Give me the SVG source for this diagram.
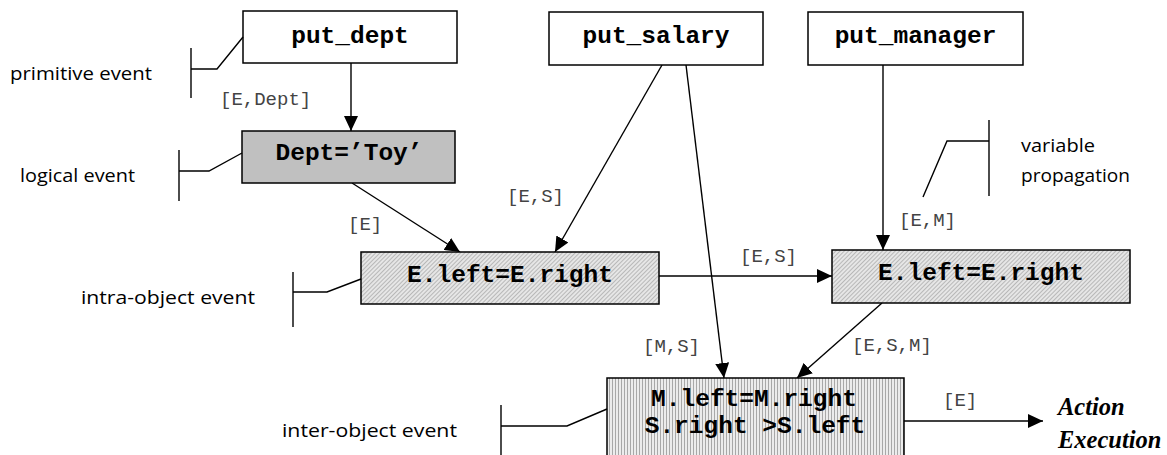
<svg xmlns="http://www.w3.org/2000/svg" width="1167" height="455" viewBox="0 0 1167 455">
<style>
.box{stroke:#000;stroke-width:1.5}
.nt{font-family:"Liberation Mono","Courier New",monospace;font-weight:bold;font-size:24.5px;fill:#000;text-anchor:middle}
.lbl{font-family:"Liberation Mono","Courier New",monospace;font-size:19px;fill:#444}
.side{font-family:"Open Sans","DejaVu Sans",sans-serif;font-size:18px;fill:#000}
.act{font-family:"Liberation Serif","Times New Roman",serif;font-weight:bold;font-style:italic;font-size:24.5px;fill:#000}
.br{fill:none;stroke:#000;stroke-width:1.4}
.ed{fill:none;stroke:#000;stroke-width:1.4;marker-end:url(#ah)}
</style>
<defs>
<marker id="ah" markerUnits="userSpaceOnUse" markerWidth="16" markerHeight="14" refX="15" refY="7" orient="auto">
<path d="M0,0 L15,7 L0,14 Z" fill="#000"/>
</marker>
<pattern id="diag" patternUnits="userSpaceOnUse" width="3" height="3" patternTransform="rotate(45)">
<rect width="3" height="3" fill="#e6e6e6"/>
<line x1="0" y1="0" x2="0" y2="3" stroke="#9a9a9a" stroke-width="1.2"/>
</pattern>
<pattern id="vert" patternUnits="userSpaceOnUse" width="3" height="3">
<rect width="3" height="3" fill="#ececec"/>
<line x1="0.5" y1="0" x2="0.5" y2="3" stroke="#a8a8a8" stroke-width="1"/>
</pattern>
</defs>
<rect width="1167" height="455" fill="#fff"/>

<g id="connectors">
<line class="ed" x1="351" y1="63" x2="351" y2="131"/>
<line class="ed" x1="352" y1="183" x2="460" y2="252"/>
<line class="ed" x1="662" y1="65" x2="555" y2="252"/>
<line class="ed" x1="686" y1="65" x2="724" y2="378"/>
<line class="ed" x1="883" y1="65" x2="883" y2="250"/>
<line class="ed" x1="659" y1="276" x2="832" y2="276"/>
<line class="ed" x1="882" y1="303" x2="797" y2="378"/>
<line class="ed" x1="904" y1="421" x2="1043" y2="421"/>
<text class="lbl" x="220" y="105">[E,Dept]</text>
<text class="lbl" x="348" y="230">[E]</text>
<text class="lbl" x="507" y="202">[E,S]</text>
<text class="lbl" x="740" y="262">[E,S]</text>
<text class="lbl" x="899" y="226">[E,M]</text>
<text class="lbl" x="643" y="352">[M,S]</text>
<text class="lbl" x="852" y="351">[E,S,M]</text>
<text class="lbl" x="943" y="406">[E]</text>
</g>

<g id="put_dept">
<rect class="box" x="243" y="11" width="214" height="52" fill="#fff"/>
<text class="nt" x="350" y="43">put_dept</text>
</g>
<g id="put_salary">
<rect class="box" x="549" y="12" width="214" height="53" fill="#fff"/>
<text class="nt" x="656" y="43">put_salary</text>
</g>
<g id="put_manager">
<rect class="box" x="808" y="12" width="215" height="53" fill="#fff"/>
<text class="nt" x="915.5" y="43">put_manager</text>
</g>
<g id="dept_toy">
<rect class="box" x="242" y="131" width="213" height="52" fill="#c0c0c0"/>
<text class="nt" x="349" y="160">Dept=’Toy’</text>
</g>
<g id="intra_left">
<rect class="box" x="361" y="252" width="298" height="52" fill="url(#diag)"/>
<text class="nt" x="510" y="282">E.left=E.right</text>
</g>
<g id="intra_right">
<rect class="box" x="832" y="250" width="298" height="53" fill="url(#diag)"/>
<text class="nt" x="981" y="280">E.left=E.right</text>
</g>
<g id="inter">
<rect class="box" x="607" y="378" width="297" height="90" fill="url(#vert)"/>
<text class="nt" x="754" y="406">M.left=M.right</text>
<text class="nt" x="755" y="433" xml:space="preserve">S.right &gt;S.left</text>
</g>
<g id="action">
<text class="act" x="1058" y="415">Action</text>
<text class="act" x="1058" y="448">Execution</text>
</g>

<g id="annotations">
<polyline class="br" points="191,48 191,98"/>
<polyline class="br" points="191,69 217,69 243,37"/>
<text class="side" x="10" y="80" textLength="142" lengthAdjust="spacingAndGlyphs">primitive event</text>

<polyline class="br" points="179,150 179,201"/>
<polyline class="br" points="179,171 209,171 242,153"/>
<text class="side" x="20" y="182" textLength="115" lengthAdjust="spacingAndGlyphs">logical event</text>

<polyline class="br" points="293,272 293,327"/>
<polyline class="br" points="293,292 327,292 361,279"/>
<text class="side" x="81" y="304" textLength="174" lengthAdjust="spacingAndGlyphs">intra-object event</text>

<polyline class="br" points="501,405 501,455"/>
<polyline class="br" points="501,426 567,426 607,409"/>
<text class="side" x="282" y="437" textLength="175" lengthAdjust="spacingAndGlyphs">inter-object event</text>

<polyline class="br" points="989,120 989,196"/>
<polyline class="br" points="989,141 947,141 923,197"/>
<text class="side" x="1021" y="152" textLength="74" lengthAdjust="spacingAndGlyphs">variable</text>
<text class="side" x="1021" y="182" textLength="109" lengthAdjust="spacingAndGlyphs">propagation</text>
</g>
</svg>
